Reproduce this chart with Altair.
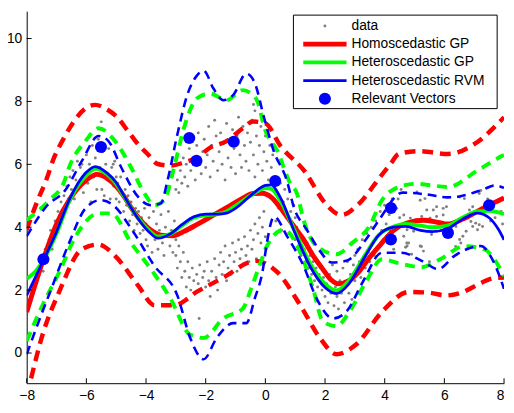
import altair as alt
import pandas as pd

# ---------------- data ----------------
data_pts = [
    # x in [-7.6,-6.5]
    (-7.55, 2.7), (-7.5, 3.1), (-7.45, 2.6), (-7.38, 3.3), (-7.32, 3.0), (-7.25, 3.6), (-7.2, 3.9),
    (-7.15, 3.3), (-7.1, 3.7), (-7.05, 4.2), (-7.0, 3.9), (-6.95, 4.5), (-6.9, 4.1), (-6.85, 4.8),
    (-6.8, 4.4), (-6.75, 5.0), (-6.7, 4.6), (-6.65, 5.3), (-6.6, 4.9), (-6.55, 5.6),
    # x in [-6.5,-5]
    (-6.5, 5.2), (-6.45, 5.8), (-6.4, 4.9), (-6.35, 5.5), (-6.3, 6.1), (-6.25, 5.3), (-6.2, 5.9),
    (-6.15, 6.0), (-6.1, 5.1), (-6.05, 5.7), (-6.0, 6.3), (-5.95, 5.4), (-5.9, 6.0), (-5.85, 4.8),
    (-5.8, 6.6), (-5.75, 5.6), (-5.7, 6.2), (-5.65, 5.2), (-5.6, 6.8), (-5.55, 5.9), (-5.5, 7.35),
    (-5.5, 7.1), (-5.48, 5.2), (-5.45, 6.4), (-5.4, 5.0), (-5.35, 6.0), (-5.3, 5.5), (-5.25, 6.5),
    (-5.2, 4.9), (-5.15, 5.9), (-5.1, 6.0), (-5.08, 5.3), (-5.05, 6.1), (-5.0, 4.9), (-5.0, 5.6),
    # x in [-5,-4]
    (-4.95, 5.4), (-4.9, 4.8), (-4.85, 5.6), (-4.8, 5.1), (-4.75, 4.5), (-4.7, 5.2), (-4.65, 4.7),
    (-4.6, 5.0), (-4.55, 4.2), (-4.5, 4.8), (-4.45, 4.4), (-4.4, 3.9), (-4.35, 4.6), (-4.3, 4.1),
    (-4.25, 4.5), (-4.2, 3.8), (-4.15, 4.3), (-4.1, 3.9), (-4.05, 4.6), (-4.0, 3.6), (-4.0, 4.1),
    # x in [-4,-3]
    (-3.95, 3.4), (-3.9, 4.3), (-3.85, 3.9), (-3.8, 3.2), (-3.75, 4.5), (-3.7, 3.6), (-3.65, 4.1),
    (-3.6, 3.3), (-3.55, 3.9), (-3.5, 4.4), (-3.45, 3.5), (-3.4, 3.1), (-3.35, 4.0), (-3.3, 3.7),
    (-3.25, 4.5), (-3.2, 3.4), (-3.15, 3.9), (-3.1, 3.2), (-3.05, 4.2), (-3.0, 3.6),
    # x in [-3,0], lower group
    (-3.0, 3.1), (-2.95, 2.7), (-2.9, 3.4), (-2.85, 2.9), (-2.8, 2.4), (-2.75, 3.2), (-2.7, 2.6),
    (-2.65, 2.1), (-2.6, 2.9), (-2.55, 2.4), (-2.5, 2.0), (-2.45, 2.7), (-2.4, 2.3), (-2.35, 1.9),
    (-2.3, 2.5), (-2.25, 2.2), (-2.22, 1.1), (-2.2, 2.8), (-2.15, 2.0), (-2.1, 2.4), (-2.05, 2.6),
    (-2.0, 2.1), (-1.95, 2.9), (-1.9, 2.3), (-1.85, 1.8), (-1.8, 2.6), (-1.75, 2.2), (-1.7, 3.0),
    (-1.65, 2.4), (-1.6, 2.0), (-1.55, 2.8), (-1.5, 3.2), (-1.45, 2.5), (-1.4, 2.9), (-1.35, 3.4),
    (-1.3, 2.3), (-1.25, 2.7), (-1.2, 3.1), (-1.15, 2.5), (-1.1, 3.5), (-1.05, 2.9), (-1.0, 3.2),
    (-0.95, 2.6), (-0.9, 3.6), (-0.85, 3.0), (-0.8, 3.3), (-0.75, 2.8), (-0.7, 3.7), (-0.65, 3.1),
    (-0.6, 3.4), (-0.55, 2.9), (-0.5, 3.9), (-0.45, 3.3), (-0.4, 3.6), (-0.35, 4.1), (-0.3, 3.0),
    (-0.25, 3.8), (-0.2, 4.3), (-0.15, 3.5), (-0.1, 4.0), (-0.05, 4.5), (0.0, 3.7),
    # x in [-3,0.3], upper group
    (-3.0, 5.2), (-2.95, 5.5), (-2.9, 5.1), (-2.85, 5.8), (-2.8, 5.4), (-2.75, 6.2), (-2.7, 5.6),
    (-2.65, 6.0), (-2.6, 5.3), (-2.55, 6.5), (-2.5, 5.8), (-2.45, 6.9), (-2.4, 6.2), (-2.35, 5.5),
    (-2.3, 6.6), (-2.25, 7.0), (-2.2, 6.0), (-2.15, 5.7), (-2.1, 6.4), (-2.05, 6.8), (-2.0, 5.9),
    (-1.95, 6.3), (-1.9, 7.2), (-1.85, 5.6), (-1.8, 6.6), (-1.75, 6.1), (-1.7, 7.4), (-1.65, 6.9),
    (-1.6, 5.8), (-1.55, 6.4), (-1.5, 7.0), (-1.45, 6.0), (-1.4, 6.7), (-1.35, 5.5), (-1.3, 7.3),
    (-1.25, 6.2), (-1.2, 6.8), (-1.15, 5.9), (-1.1, 7.1), (-1.05, 6.5), (-1.0, 5.7), (-0.95, 6.9),
    (-0.9, 7.5), (-0.85, 6.3), (-0.8, 5.9), (-0.75, 7.2), (-0.7, 6.6), (-0.65, 6.1), (-0.6, 7.0),
    (-0.55, 5.8), (-0.5, 6.7), (-0.45, 7.4), (-0.4, 6.3), (-0.35, 5.6), (-0.3, 6.9), (-0.25, 6.0),
    (-0.2, 6.6), (-0.15, 7.2), (-0.1, 5.8), (-0.05, 6.4), (0.0, 6.9), (0.05, 6.1), (0.1, 5.5),
    (0.15, 6.6), (0.2, 5.9), (0.25, 6.3), (0.3, 5.6), (-0.4, 7.9), (-0.35, 7.7),
    # x in [0.3,1]
    (0.35, 4.2), (0.4, 5.1), (0.45, 4.6), (0.5, 5.4), (0.55, 3.9), (0.6, 4.8), (0.65, 5.2),
    (0.7, 4.3), (0.75, 4.9), (0.8, 3.8), (0.85, 4.5), (0.9, 4.1), (0.95, 4.7), (1.0, 3.6), (1.0, 4.3),
    # x in [1,2]
    (1.05, 4.0), (1.1, 3.4), (1.15, 3.8), (1.2, 3.1), (1.25, 3.6), (1.3, 3.3), (1.35, 2.9),
    (1.4, 3.5), (1.45, 2.7), (1.5, 3.1), (1.55, 2.5), (1.6, 2.9), (1.65, 2.3), (1.7, 2.7),
    (1.75, 2.1), (1.8, 2.5), (1.85, 2.8), (1.9, 2.0), (1.95, 2.4), (2.0, 1.8), (2.0, 2.6),
    # x in [2,3]
    (2.05, 2.2), (2.1, 1.6), (2.15, 2.5), (2.2, 1.9), (2.25, 2.8), (2.3, 1.5), (2.35, 2.1),
    (2.4, 1.8), (2.4, 2.6), (2.45, 1.4), (2.5, 2.3), (2.55, 1.9), (2.6, 2.7), (2.65, 1.6),
    (2.7, 2.2), (2.75, 2.9), (2.8, 1.9), (2.85, 2.5), (2.9, 1.7), (2.95, 2.8), (3.0, 2.3), (3.0, 3.1),
    # x in [3,4.3]
    (3.05, 2.6), (3.1, 3.3), (3.15, 2.9), (3.2, 2.4), (3.25, 3.6), (3.3, 3.0), (3.35, 2.7),
    (3.4, 3.8), (3.45, 3.2), (3.5, 2.9), (3.55, 4.0), (3.6, 3.5), (3.65, 3.1), (3.7, 4.2),
    (3.75, 3.7), (3.8, 3.4), (3.85, 4.5), (3.9, 3.9), (3.95, 3.6), (4.0, 4.7), (4.05, 4.1),
    (4.1, 3.5), (4.15, 4.4), (4.2, 3.9), (4.25, 4.9), (4.3, 3.3),
    # x in [4.3,8]
    (5.08, 5.12), (5.35, 4.91), (5.19, 4.86), (5.74, 4.65), (5.96, 4.6), (5.63, 4.55), (6.07, 4.65),
    (5.41, 4.55), (4.64, 4.39), (4.86, 4.29), (5.08, 4.23), (5.24, 4.34), (5.52, 4.29), (5.74, 4.34),
    (5.96, 4.39), (4.75, 3.92), (4.97, 3.87), (4.64, 3.71), (4.8, 3.5), (4.75, 3.4), (5.19, 3.4),
    (5.3, 3.24), (5.57, 3.77), (5.74, 3.87), (5.85, 4.02), (6.18, 3.97), (6.39, 4.02), (6.51, 3.61),
    (6.62, 3.71), (6.73, 3.87), (6.95, 4.02), (7.05, 4.13), (6.89, 4.18), (6.84, 4.55), (6.95, 4.65),
    (7.17, 4.08), (7.28, 4.02), (7.11, 3.92), (6.51, 4.96), (6.67, 4.91), (7.22, 5.17), (7.17, 5.07),
    (4.74, 3.5), (4.7, 3.36), (5.23, 3.39), (4.9, 3.14), (5.4, 2.77), (5.5, 2.9), (6.38, 3.39),
    (6.55, 3.5), (6.94, 3.39), (4.4, 4.6), (4.45, 4.9), (4.5, 4.3), (4.55, 5.2),
    (7.35, 4.4), (7.45, 4.9), (7.55, 4.2), (7.6, 4.6), (7.7, 4.3), (7.8, 4.8), (7.9, 4.5), (7.95, 4.1),
]
data_x = [p[0] for p in data_pts]
data_y = [p[1] for p in data_pts]

# Homoscedastic GP (red): mean, upper and lower bound
homo_x = [-8, -7.44, -7.0, -6.55, -6.0, -5.65, -5.3, -5.0, -4.75, -4.5, -4.27, -3.9, -3.5, -3.1, -2.7,
          -2.3, -1.8, -1.3, -0.8, -0.4, -0.1, 0.2, 0.5, 0.9, 1.25, 1.6, 1.9, 2.2, 2.45, 2.8, 3.1, 3.5,
          3.86, 4.3, 4.8, 5.3, 5.8, 6.1, 6.6, 7.0, 7.5, 8.0]
homo_y = [1.3, 2.98, 4.1, 4.9, 5.5, 5.68, 5.55, 5.3, 5.0, 4.62, 4.32, 3.95, 3.75, 3.73, 3.88,
          4.08, 4.35, 4.62, 4.9, 5.07, 5.08, 4.95, 4.62, 4.1, 3.65, 3.1, 2.7, 2.33, 2.2, 2.3, 2.55, 3.05,
          3.45, 3.9, 4.15, 4.22, 4.15, 4.1, 4.25, 4.45, 4.7, 4.93]
homo_up_x = [-8, -7.63, -7.35, -7.08, -6.75, -6.42, -6.03, -5.7, -5.37, -4.99, -4.6, -4.27, -3.94, -3.61,
             -3.17, -2.73, -2.29, -1.85, -1.3, -0.75, -0.42, 0.0, 0.51, 1.34, 2.0, 2.55, 3.09, 3.81,
             4.2, 4.47, 5.13, 6.12, 7.0, 7.77, 8.0]
homo_up_y = [3.92, 4.86, 5.49, 6.22, 6.84, 7.36, 7.78, 7.89, 7.78, 7.52, 7.05, 6.64, 6.32, 6.01,
             5.96, 6.06, 6.22, 6.53, 6.74, 7.15, 7.36, 7.3, 6.58, 5.75, 4.77, 4.39, 4.7, 5.55,
             6.02, 6.33, 6.42, 6.33, 6.64, 7.27, 7.5]
homo_lo_x = [-8, -7.9, -7.47, -6.91, -6.15, -5.59, -5.04, -4.27, -3.72, -3.06, -2.29, -1.3, -0.54, -0.31,
             0.4, 1.17, 1.83, 2.38, 3.04, 3.91, 4.8, 5.46, 6.07, 6.62, 7.17, 7.66, 8.0]
homo_lo_y = [-1.35, -0.98, 0.58, 1.95, 3.3, 3.45, 3.09, 2.15, 1.52, 1.52, 1.95, 2.46, 2.89, 2.93,
             2.57, 1.52, 0.48, -0.04, 0.27, 1.31, 1.94, 1.92, 1.83, 1.94, 2.2, 2.38, 2.4]

# Heteroscedastic GP (green)
hgp_x = [-8, -7.7, -7.44, -7.0, -6.55, -6.0, -5.7, -5.3, -5.0, -4.75, -4.5, -4.27, -3.9, -3.6, -3.2,
         -2.8, -2.4, -2.0, -1.6, -1.3, -1.0, -0.5, 0.0, 0.2, 0.5, 1.0, 1.5, 2.0, 2.38, 2.8, 3.3,
         3.8, 4.3, 4.7, 5.2, 5.6, 6.1, 6.6, 7.1, 7.5, 8.0]
hgp_y = [2.36, 2.6, 2.95, 3.8, 4.88, 5.65, 5.86, 5.68, 5.38, 5.0, 4.62, 4.3, 3.9, 3.7, 3.78,
         4.05, 4.3, 4.38, 4.42, 4.5, 4.68, 5.0, 5.25, 5.22, 4.85, 3.85, 2.85, 2.2, 1.99, 2.3, 3.05,
         3.75, 4.02, 4.1, 4.05, 4.0, 4.05, 4.3, 4.5, 4.52, 4.42]
hgp_up_x = [-8, -7.24, -6.75, -6.58, -6.03, -5.59, -5.04, -4.5, -4.05, -3.72, -3.39, -3.06, -2.73, -2.29,
            -1.86, -1.3, -0.75, -0.42, -0.26, -0.03, 0.4, 0.84, 1.06, 1.28, 1.72, 2.38, 2.92, 3.48,
            3.91, 4.24, 5.02, 6.12, 7.1, 7.94, 8.0]
hgp_up_y = [4.23, 4.86, 5.43, 5.9, 6.74, 7.15, 6.74, 5.9, 5.07, 4.7, 4.86, 5.9, 7.15, 8.1,
            8.25, 8.04, 8.36, 8.2, 7.99, 7.15, 6.43, 5.38, 5.07, 4.23, 3.4, 3.14, 3.51, 4.02,
            4.86, 5.17, 5.38, 5.28, 5.8, 6.27, 6.3]
hgp_lo_x = [-8, -7.47, -6.91, -6.36, -5.59, -5.16, -4.5, -3.84, -3.18, -2.52, -2.07, -1.41, -0.75, -0.48,
            -0.15, 0.05, 0.62, 1.17, 1.6, 1.93, 2.38, 2.82, 3.37, 3.91, 4.5, 5.23, 5.89, 6.67, 7.33, 8.0]
hgp_lo_y = [0.38, 1.52, 2.57, 3.71, 4.44, 4.44, 3.5, 2.67, 1.73, 0.58, 0.48, 1.1, 1.42, 2.04,
            2.9, 3.4, 3.92, 3.2, 2.04, 1.01, 0.85, 1.32, 2.26, 2.98, 2.85, 2.73, 3.0, 3.4, 3.3, 2.45]

# Heteroscedastic RVM (blue)
rvm_x = [-8, -7.44, -7.0, -6.55, -6.0, -5.7, -5.3, -5.0, -4.75, -4.5, -4.27, -3.9, -3.6, -3.2, -2.8,
         -2.4, -2.0, -1.6, -1.3, -1.0, -0.5, 0.0, 0.2, 0.5, 1.0, 1.5, 2.0, 2.38, 2.8, 3.3, 3.8,
         4.3, 4.7, 5.2, 5.6, 6.1, 6.6, 7.1, 7.5, 7.8, 8.0]
rvm_y = [1.83, 2.95, 3.85, 4.92, 5.75, 5.93, 5.72, 5.42, 5.02, 4.62, 4.28, 3.85, 3.65, 3.78, 4.08,
         4.33, 4.42, 4.42, 4.45, 4.6, 5.0, 5.33, 5.35, 4.95, 3.8, 2.75, 2.08, 1.89, 2.2, 3.0, 3.75,
         4.0, 4.03, 3.9, 3.86, 3.95, 4.25, 4.45, 4.3, 3.95, 3.6]
rvm_up_x = [-8, -7.35, -6.69, -6.15, -5.59, -5.26, -4.83, -4.27, -3.84, -3.5, -3.28, -2.95, -2.62, -2.29,
            -2.07, -1.74, -1.41, -1.08, -0.64, -0.37, -0.04, 0.27, 0.73, 0.95, 1.39, 1.83, 2.22, 2.71,
            3.37, 3.81, 4.6, 5.5, 6.1, 6.5, 7.3, 7.7, 8.0]
rvm_up_y = [3.71, 4.65, 5.2, 6.11, 6.9, 6.74, 5.9, 4.97, 4.7, 4.76, 5.49, 6.95, 8.2, 8.83,
            8.98, 8.41, 8.04, 8.2, 8.88, 8.62, 7.47, 6.45, 5.45, 4.65, 3.92, 3.24, 2.88, 2.93,
            3.61, 4.23, 5.1, 5.03, 4.95, 4.98, 5.2, 5.33, 5.25]
rvm_lo_x = [-8, -7.68, -7.13, -6.58, -6.03, -5.54, -5.1, -4.44, -3.72, -2.95, -2.52, -2.07, -1.63, -1.08,
            -0.64, -0.35, -0.09, 0.05, 0.29, 0.73, 1.28, 1.72, 2.27, 2.71, 3.26, 3.91, 4.57, 5.24,
            5.79, 6.34, 7.22, 7.66, 8.0]
rvm_lo_y = [-0.04, 0.79, 2.15, 3.5, 4.6, 4.86, 4.7, 3.87, 2.77, 1.83, 0.48, -0.2, 0.48, 0.95,
            0.95, 1.75, 2.62, 3.5, 4.34, 3.71, 2.77, 1.73, 1.1, 1.31, 2.25, 3.19, 3.19, 2.93,
            2.67, 3.09, 3.4, 2.88, 2.04]

# Relevant vectors
rv_x = [-7.44, -5.51, -2.55, -2.31, -1.06, 0.33, 4.21, 4.21, 6.12, 7.5]
rv_y = [2.98, 6.55, 6.84, 6.11, 6.72, 5.47, 4.61, 3.61, 3.82, 4.7]

x_ticks = [-8, -6, -4, -2, 0, 2, 4, 6, 8]
y_ticks = [0, 2, 4, 6, 8, 10]
legend_labels = ["data", "Homoscedastic GP", "Heteroscedastic GP", "Heteroscedastic RVM", "Relevant Vectors"]

# ---------------- chart ----------------
W, H = 485, 378
FONT = "Liberation Sans"
RED, GREEN, BLUE, GRAY = "#ff0000", "#00ff00", "#0000ff", "#808080"
xs = alt.Scale(domain=[-8, 8], nice=False, zero=False)
ys = alt.Scale(domain=[-0.96, 10.87], nice=False, zero=False)
x_axis = alt.Axis(values=x_ticks, ticks=False, grid=False, labelFlush=False,
                  labelOverlap=False, labelPadding=6,
                  labelAlign={"expr": "datum.value == 8 ? 'right' : 'center'"})
y_axis = alt.Axis(values=y_ticks, ticks=False, grid=False, labelOverlap=False,
                  labelPadding=5)


def X(field):
    return alt.X(field, scale=xs, title=None, axis=x_axis)


def Y(field):
    return alt.Y(field, scale=ys, title=None, axis=y_axis)


def curve(xv, yv, color, width, dash=None):
    df = pd.DataFrame({"x": xv, "y": yv})
    kw = dict(color=color, strokeWidth=width, interpolate="monotone", clip=True)
    if dash:
        kw["strokeDash"] = dash
    return alt.Chart(df).mark_line(**kw).encode(x=X("x:Q"), y=Y("y:Q"))


pts = alt.Chart(pd.DataFrame({"x": data_x, "y": data_y})).mark_circle(
    size=9, color=GRAY, opacity=1
).encode(x=X("x:Q"), y=Y("y:Q"))

layers = [
    pts,
    curve(homo_up_x, homo_up_y, RED, 4.5, [11, 7]),
    curve(homo_lo_x, homo_lo_y, RED, 4.5, [11, 7]),
    curve(homo_x, homo_y, RED, 5),
    curve(hgp_up_x, hgp_up_y, GREEN, 4, [10, 7]),
    curve(hgp_lo_x, hgp_lo_y, GREEN, 4, [10, 7]),
    curve(hgp_x, hgp_y, GREEN, 4),
    curve(rvm_up_x, rvm_up_y, BLUE, 2.6, [9, 6]),
    curve(rvm_lo_x, rvm_lo_y, BLUE, 2.6, [9, 6]),
    curve(rvm_x, rvm_y, BLUE, 2.8),
    alt.Chart(pd.DataFrame({"x": rv_x, "y": rv_y})).mark_circle(size=150, color=BLUE, opacity=1).encode(
        x=X("x:Q"), y=Y("y:Q")
    ),
    # inward tick marks
    alt.Chart(pd.DataFrame({"x": x_ticks})).mark_rule(color="black", strokeWidth=1).encode(
        x=X("x:Q"), y=alt.value(H), y2=alt.value(H - 5)
    ),
    alt.Chart(pd.DataFrame({"y": y_ticks})).mark_rule(color="black", strokeWidth=1).encode(
        y=Y("y:Q"), x=alt.value(0), x2=alt.value(5)
    ),
]

# legend box
one = pd.DataFrame({"k": [0]})
layers.append(
    alt.Chart(one).mark_rect(fill="white", stroke="black", strokeWidth=1).encode(
        x=alt.value(271), x2=alt.value(478), y=alt.value(4), y2=alt.value(99)
    )
)
sym_kind = ["dot", "line", "line", "line", "big"]
sym_color = [GRAY, RED, GREEN, BLUE, BLUE]
sym_width = [0, 5, 4, 2.8, 0]
for i, lab in enumerate(legend_labels):
    yc = 15 + i * 18.5
    if sym_kind[i] == "line":
        layers.append(alt.Chart(one).mark_rule(color=sym_color[i], strokeWidth=sym_width[i]).encode(
            x=alt.value(281), x2=alt.value(325), y=alt.value(yc)))
    else:
        layers.append(alt.Chart(one).mark_circle(color=sym_color[i], opacity=1,
                                                 size=9 if sym_kind[i] == "dot" else 150).encode(
            x=alt.value(303), y=alt.value(yc)))
    layers.append(alt.Chart(pd.DataFrame({"label": [lab]})).mark_text(
        align="left", baseline="middle", font=FONT, fontSize=14, color="black").encode(
        x=alt.value(330), y=alt.value(yc), text="label:N"))

chart = alt.layer(*layers).properties(
    width=W, height=H,
    autosize=alt.AutoSizeParams(type="none"),
    padding={"left": 19, "top": 0, "right": 2, "bottom": 24},
).configure_axis(
    labelFont=FONT, labelFontSize=14, labelColor="black",
    domainColor="black", domainWidth=1,
).configure_view(stroke=None)

chart.save("out.html", embed_options={"renderer": "svg", "actions": False})
